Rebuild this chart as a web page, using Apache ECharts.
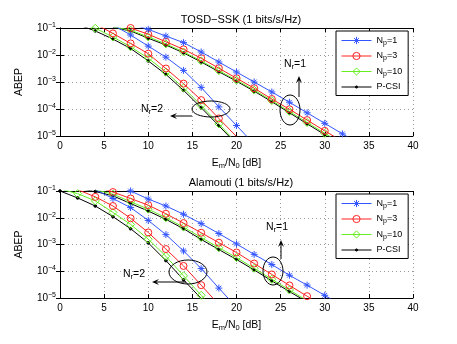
<!DOCTYPE html>
<html>
<head>
<meta charset="utf-8">
<script src="https://cdn.jsdelivr.net/npm/echarts@6/dist/echarts.min.js"></script>
<style>
  html,body{margin:0;padding:0;background:#fff;}
  #chart{width:457px;height:344px;}
</style>
</head>
<body>
<div id="chart"></div>
<script>
// SNR points (dB), one marker every 2 dB
var snr = [0,2,4,6,8,10,12,14,16,18,20,22,24,26,28,30,32,34];

// TOSD-SSK, Nr = 1
var t1Np1  = [null,null,null,null,0.141,0.0891,0.0501,0.0288,0.0129,0.00550,0.00234,0.001,0.000427,0.000178,7.24e-5,2.95e-5,1.20e-5,5.01e-6];
var t1Np3  = [null,null,null,0.151,0.1,0.0589,0.0309,0.0162,0.00759,0.00324,0.00138,0.000589,0.000234,9.77e-5,3.89e-5,1.55e-5,6.31e-6,null];
var t1Np10 = [null,null,null,0.112,0.0832,0.0468,0.0257,0.0129,0.00603,0.00263,0.00117,0.000501,0.000204,8.13e-5,3.16e-5,1.26e-5,5.01e-6,null];
var t1Pcsi = [null,null,null,0.105,0.0776,0.0417,0.0234,0.0120,0.00550,0.00240,0.00107,0.000457,0.000186,7.24e-5,2.82e-5,1.12e-5,4.47e-6,null];
// TOSD-SSK, Nr = 2
var t2Np1  = [null,null,null,0.132,0.0550,0.0214,0.00832,0.00269,0.000631,0.000120,2.45e-5,5.01e-6,null,null,null,null,null,null];
var t2Np3  = [null,null,0.141,0.0631,0.0269,0.0112,0.00316,0.000871,0.000214,4.47e-5,9.55e-6,null,null,null,null,null,null,null];
var t2Np10 = [null,0.158,0.0977,0.0468,0.0200,0.00759,0.00234,0.000603,0.000135,2.82e-5,5.62e-6,null,null,null,null,null,null,null];
var t2Pcsi = [null,0.135,0.0776,0.0389,0.0174,0.00603,0.00191,0.000490,0.000112,2.40e-5,5.01e-6,null,null,null,null,null,null,null];

// Alamouti, Nr = 1
var a1Np1  = [null,null,null,0.158,0.1,0.0501,0.0275,0.0135,0.00603,0.00257,0.00105,0.000427,0.000178,7.08e-5,3.02e-5,1.26e-5,5.01e-6,null];
var a1Np3  = [null,null,0.151,0.0912,0.0525,0.0295,0.0141,0.00631,0.00275,0.00117,0.000501,0.000195,7.59e-5,2.95e-5,1.17e-5,4.47e-6,null,null];
var a1Np10 = [null,null,0.112,0.0759,0.0398,0.0209,0.0100,0.00447,0.00182,0.000759,0.000324,0.000129,5.01e-5,2.0e-5,7.94e-6,null,null,null];
var a1Pcsi = [null,0.126,0.0955,0.0661,0.0339,0.0178,0.00871,0.00389,0.00155,0.000646,0.000275,0.000112,4.37e-5,1.74e-5,7.08e-6,null,null,null];
// Alamouti, Nr = 2
var a2Np1  = [null,null,0.112,0.0525,0.0240,0.00794,0.00234,0.000575,0.000126,2.34e-5,4.47e-6,null,null,null,null,null,null,null];
var a2Np3  = [null,0.112,0.0603,0.0275,0.00955,0.00282,0.000676,0.000158,3.02e-5,5.62e-6,null,null,null,null,null,null,null,null];
var a2Np10 = [0.120,0.0794,0.0427,0.0158,0.00562,0.00158,0.000363,6.76e-5,1.26e-5,2.51e-6,null,null,null,null,null,null,null,null];
var a2Pcsi = [0.1,0.0550,0.0275,0.0110,0.00389,0.00115,0.000251,4.79e-5,9.55e-6,null,null,null,null,null,null,null,null,null];

var names = ['Np=1','Np=3','Np=10','P-CSI'];
var titles = ['TOSD\u2212SSK (1 bits/s/Hz)', 'Alamouti (1 bits/s/Hz)'];

var FONT = 'Liberation Sans, Arial, sans-serif';
var starPath = 'path://M5 0V10M0 5H10M1.6 1.6L8.4 8.4M1.6 8.4L8.4 1.6';
// small dot padded inside a 10x10 box so it stays small when scaled
var dotPath = 'path://M0 0M10 10M3.5 5A1.5 1.5 0 1 0 6.5 5A1.5 1.5 0 1 0 3.5 5Z';
var CLEAR = 'rgba(255,255,255,0)';
var styles = [
  {color:'#3355ff', symbol:starPath, size:7, fill:CLEAR},
  {color:'#ff2222', symbol:'circle', size:7, fill:CLEAR},
  {color:'#66ee22', symbol:'diamond', size:8, fill:CLEAR},
  {color:'#000000', symbol:dotPath, size:9, fill:'#000'}
];

var chart = echarts.init(document.getElementById('chart'));

function pairs(arr){
  var out = [];
  for (var i = 0; i < snr.length; i++) if (arr[i] != null) out.push([snr[i], arr[i]]);
  return out;
}
function mk(k, arr, g){
  var s = styles[k];
  return {
    name: names[k], type:'line', xAxisIndex: g*2, yAxisIndex: g*2,
    data: pairs(arr), clip:true, animation:false,
    symbol: s.symbol, symbolSize: s.size, showSymbol:true,
    legendIcon: s.symbol,
    lineStyle:{color:s.color, width:1},
    itemStyle:{color:s.fill, borderColor:s.color, borderWidth:1},
    z: 10 - k
  };
}

var legendData = names.map(function(n, k){
  var s = styles[k];
  return {name:n, itemStyle:{color:s.fill, borderColor:s.color, borderWidth:1}, lineStyle:{color:s.color, width:1}};
});

var grids = [{left:60, right:44, top:28, height:108}, {left:60, right:44, top:191, height:107}];
var xAxes = [], yAxes = [], series = [], legends = [], titleOpts = [];
var supRich = {b:{fontSize:10, fontFamily:FONT, color:'#000'}, sup:{fontSize:7, fontFamily:FONT, color:'#000', verticalAlign:'top', padding:[0,0,6,0]}};
var subRich = {s:{fontSize:7, fontFamily:FONT, color:'#000', padding:[5,0,0,0]}};

grids.forEach(function(gr, g){
  xAxes.push({
    type:'value', gridIndex:g, min:0, max:40, interval:5, position:'bottom',
    name:'E{s|m}/N{s|0} [dB]', nameLocation:'middle', nameGap:20,
    nameTextStyle:{fontSize:10.5, fontFamily:FONT, color:'#000', rich:{s:{fontSize:7.5, fontFamily:FONT, padding:[6,0,0,0]}}},
    axisLine:{lineStyle:{color:'#000', width:1}},
    axisTick:{inside:true, length:4, lineStyle:{color:'#000'}},
    axisLabel:{fontSize:10, fontFamily:FONT, color:'#000', margin:5},
    splitLine:{show:true, lineStyle:{color:'#9a9a9a', type:[1,3], width:1}}
  });
  xAxes.push({
    type:'value', gridIndex:g, min:0, max:40, interval:5, position:'top',
    axisLine:{lineStyle:{color:'#000', width:1}},
    axisTick:{inside:true, length:4, lineStyle:{color:'#000'}},
    axisLabel:{show:false}, splitLine:{show:false}
  });
  yAxes.push({
    type:'log', gridIndex:g, min:1e-5, max:0.1, logBase:10, position:'left',
    name:'ABEP', nameLocation:'middle', nameGap:35,
    nameTextStyle:{fontSize:10.5, fontFamily:FONT, color:'#000'},
    axisLine:{show:true, lineStyle:{color:'#000', width:1}},
    axisTick:{inside:true, length:4, lineStyle:{color:'#000'}},
    axisLabel:{margin:4, rich:supRich, formatter:function(v){
      var e = Math.round(Math.log10(v));
      return '{b|10}{sup|\u2212' + Math.abs(e) + '}';
    }},
    splitLine:{show:true, lineStyle:{color:'#9a9a9a', type:[1,3], width:1}}
  });
  yAxes.push({
    type:'log', gridIndex:g, min:1e-5, max:0.1, logBase:10, position:'right',
    axisLine:{show:true, lineStyle:{color:'#000', width:1}},
    axisTick:{inside:true, length:4, lineStyle:{color:'#000'}},
    axisLabel:{show:false}, splitLine:{show:false}
  });
  titleOpts.push({
    text: titles[g], left:236, top: g === 0 ? 9 : 172, textAlign:'center',
    textStyle:{fontSize:11, fontWeight:'normal', fontFamily:FONT, color:'#000'}
  });
  legends.push({
    data: legendData, orient:'vertical', left:336, top: g === 0 ? 31 : 194,
    backgroundColor:'#fff', borderColor:'#000', borderWidth:1,
    padding:[5,6,4,5], itemGap:5, itemWidth:30, itemHeight:9,
    selectedMode:false,
    formatter:function(n){ return n.indexOf('Np') === 0 ? 'N{s|p}' + n.slice(2) : n; },
    textStyle:{fontSize:9, fontFamily:FONT, color:'#000', rich:subRich}
  });
});

var sets = [
  [[t1Np1,t1Np3,t1Np10,t1Pcsi],[t2Np1,t2Np3,t2Np10,t2Pcsi]],
  [[a1Np1,a1Np3,a1Np10,a1Pcsi],[a2Np1,a2Np3,a2Np10,a2Pcsi]]
];
sets.forEach(function(byNr, g){
  byNr.forEach(function(group){
    group.forEach(function(arr, k){ series.push(mk(k, arr, g)); });
  });
});

// annotations: ellipses, arrows, Nr labels
function arrow(x1, y1, x2, y2){
  var dx = x2 - x1, dy = y2 - y1, L = Math.sqrt(dx*dx + dy*dy);
  var ux = dx / L, uy = dy / L, hl = 7, hw = 3;
  return [
    {type:'line', shape:{x1:x1, y1:y1, x2:x2 - ux*hl*0.6, y2:y2 - uy*hl*0.6}, style:{stroke:'#000', lineWidth:1}, z:100},
    {type:'polygon', shape:{points:[[x2,y2],[x2 - ux*hl - uy*hw, y2 - uy*hl + ux*hw],[x2 - ux*hl*0.6, y2 - uy*hl*0.6],[x2 - ux*hl + uy*hw, y2 - uy*hl - ux*hw]]}, style:{fill:'#000'}, z:100}
  ];
}
var gfx = [];
function ann(ex, ey, rx, ry, a, lx, ly, nr){
  gfx.push({type:'ellipse', shape:{cx:ex, cy:ey, rx:rx, ry:ry}, style:{fill:'none', stroke:'#000', lineWidth:1}, z:100});
  gfx = gfx.concat(arrow(a[0], a[1], a[2], a[3]));
  gfx.push({type:'text', x:lx, y:ly, z:100, style:{text:'N{s|r}=' + nr, rich:{s:{fontSize:7.5, fontFamily:FONT, padding:[6,0,0,0]}}, fontSize:10.5, fontFamily:FONT, fill:'#000', align:'center', verticalAlign:'middle'}});
}
ann(211, 109, 19, 8, [192, 116, 170, 116], 152, 109, 2);
ann(290, 110, 10, 15, [299, 97, 299, 76], 295, 64, 1);
ann(188, 272, 19, 12, [186, 282, 152, 282], 134, 274, 2);
ann(273, 271, 10, 14, [281, 259, 281, 240], 277, 227, 1);

chart.setOption({
  backgroundColor:'#fff',
  animation:false,
  textStyle:{fontFamily:FONT},
  title: titleOpts,
  grid: grids,
  xAxis: xAxes,
  yAxis: yAxes,
  legend: legends,
  series: series,
  graphic: gfx
});
</script>
</body>
</html>
